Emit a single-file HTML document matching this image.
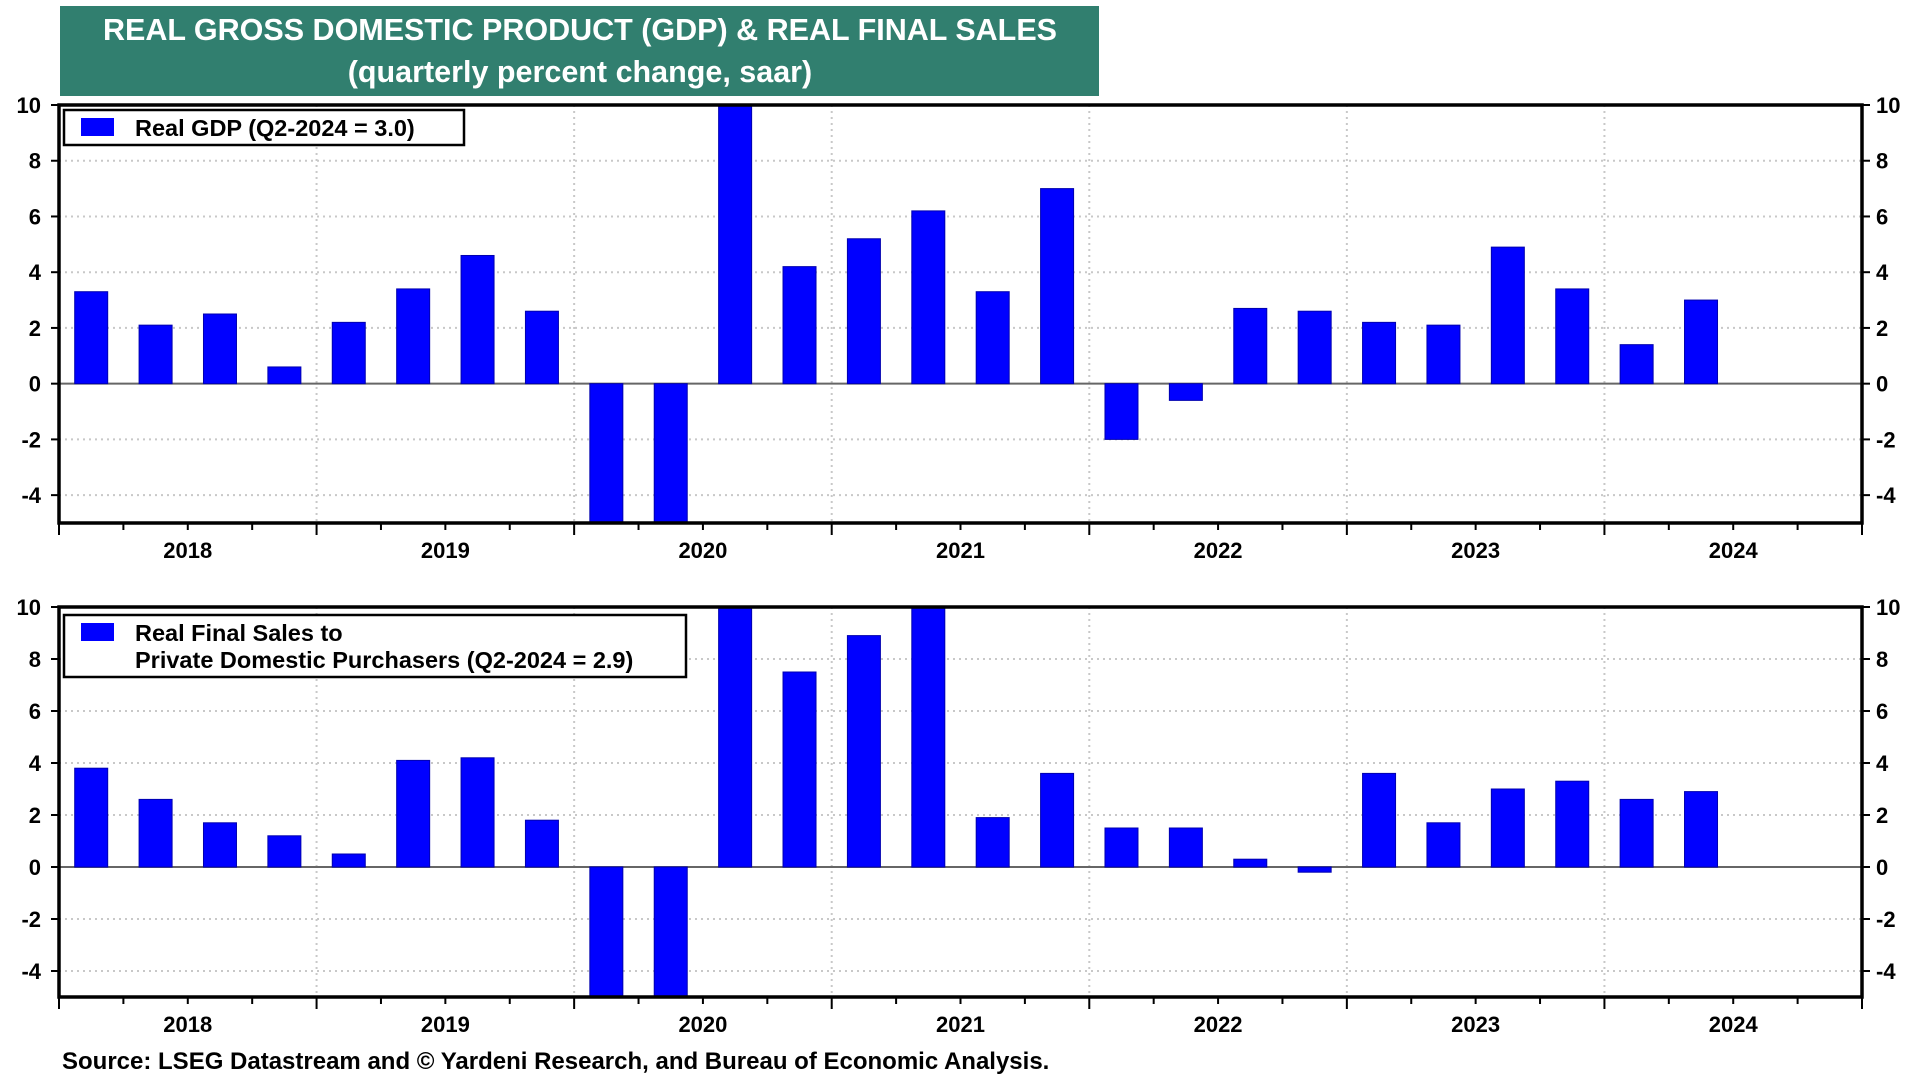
<!DOCTYPE html>
<html><head><meta charset="utf-8"><style>
html,body{margin:0;background:#fff;width:1920px;height:1080px;overflow:hidden;font-family:"Liberation Sans",Arial,sans-serif}
svg{display:block}
</style></head><body>
<svg id="chart" width="1920" height="1080" xmlns="http://www.w3.org/2000/svg" font-family="Liberation Sans, Arial, sans-serif" font-weight="bold">
<rect x="60" y="6" width="1039" height="90" fill="#317f6f"/>
<text x="580" y="40" text-anchor="middle" fill="#fff" font-size="30.5">REAL GROSS DOMESTIC PRODUCT (GDP) &amp; REAL FINAL SALES</text>
<text x="580" y="82" text-anchor="middle" fill="#fff" font-size="30.5">(quarterly percent change, saar)</text>
<text x="62" y="1069" font-size="24" fill="#000">Source: LSEG Datastream and © Yardeni Research, and Bureau of Economic Analysis.</text>
</svg>
<script>
const years = ['2018','2019','2020','2021','2022','2023','2024'];
const yTicks = [10,8,6,4,2,0,-2,-4];
const gdpValues = [3.3,2.1,2.5,0.6, 2.2,3.4,4.6,2.6, -5.3,-28.0,34.8,4.2, 5.2,6.2,3.3,7.0, -2.0,-0.6,2.7,2.6, 2.2,2.1,4.9,3.4, 1.4,3.0];
const salesValues = [3.8,2.6,1.7,1.2, 0.5,4.1,4.2,1.8, -9.0,-30.0,40.0,7.5, 8.9,12.0,1.9,3.6, 1.5,1.5,0.3,-0.2, 3.6,1.7,3.0,3.3, 2.6,2.9];
const gdpLegend = ['Real GDP (Q2-2024 = 3.0)'];
const salesLegend = ['Real Final Sales to','Private Domestic Purchasers (Q2-2024 = 2.9)'];

const NS='http://www.w3.org/2000/svg';
const svg=document.getElementById('chart');
function mk(tag,attrs,parent){const e=document.createElementNS(NS,tag);for(const k in attrs)e.setAttribute(k,attrs[k]);(parent||svg).appendChild(e);return e;}

const X0=59,X1=1862,nQ=years.length*4;
const qw=(X1-X0)/nQ;
function xQ(i){return X0+i*qw;}

function panel(id,top,bottom,values,legend,lx,ly,lw,lh){
  const ymin=-5,ymax=10;
  const y=v=>top+(ymax-v)/(ymax-ymin)*(bottom-top);
  const g=mk('g',{});
  
  
  const cp=mk('clipPath',{id:id+'-clip'},g);
  mk('rect',{x:X0,y:top,width:X1-X0,height:bottom-top},cp);
  yTicks.forEach(t=>{
    if(t!==0&&t!==10){const l=mk('line',{x1:X0,x2:X1,y1:y(t),y2:y(t),stroke:'#c8c8c8','stroke-width':2,'stroke-dasharray':'2 4'},g);
    
    }
    const lt=mk('text',{x:X0-18,y:y(t)+8,'text-anchor':'end','font-size':22},g);lt.textContent=t;
    
    
    const rt=mk('text',{x:X1+14,y:y(t)+8,'font-size':22},g);rt.textContent=t;
    
    
    mk('line',{x1:X0-8,x2:X0,y1:y(t),y2:y(t),stroke:'#000','stroke-width':2},g);
    mk('line',{x1:X1,x2:X1+8,y1:y(t),y2:y(t),stroke:'#000','stroke-width':2},g);
  });
  for(let k=1;k<years.length;k++){
    const l=mk('line',{x1:xQ(k*4),x2:xQ(k*4),y1:top,y2:bottom,stroke:'#c8c8c8','stroke-width':2,'stroke-dasharray':'2 4'},g);
    
    
  }
  const z=mk('line',{x1:X0,x2:X1,y1:y(0),y2:y(0),stroke:'#666','stroke-width':2},g);
  
  
  const bg=mk('g',{'clip-path':'url(#'+id+'-clip)'},g);
  values.forEach((v,i)=>{
    const cx=xQ(i)+qw/2,bw=33;
    const y1=y(Math.max(v,0)),y2=y(Math.min(v,0));
    const r=mk('rect',{x:cx-bw/2,y:y1,width:bw,height:Math.max(y2-y1,1),fill:'#0000ff',stroke:'#0000b0','stroke-width':1},bg);
    
    
  });
  const f=mk('rect',{x:X0,y:top,width:X1-X0,height:bottom-top,fill:'none',stroke:'#000','stroke-width':3.5},g);
  
  
  for(let i=0;i<=nQ;i++){
    const major=i%4===0;
    mk('line',{x1:xQ(i),x2:xQ(i),y1:bottom,y2:bottom+(major?12:7),stroke:'#000','stroke-width':2},g);
  }
  years.forEach((yr,k)=>{
    const t=mk('text',{x:xQ(k*4+2),y:bottom+35,'text-anchor':'middle','font-size':22},g);t.textContent=yr;
    
    
  });
  const lg=mk('g',{},g);
  
  
  mk('rect',{x:lx,y:ly,width:lw,height:lh,fill:'#fff',stroke:'#000','stroke-width':2.5},lg);
  mk('rect',{x:lx+17,y:ly+8,width:33,height:18,fill:'#0000ff'},lg);
  legend.forEach((s,j)=>{const t=mk('text',{x:lx+71,y:ly+26+j*27,'font-size':23.5},lg);t.textContent=s;});
}
panel('gdp',105,523,gdpValues,gdpLegend,64,110,400,35);
panel('sales',607,997,salesValues,salesLegend,64,615,622,62);
</script>
</body></html>
